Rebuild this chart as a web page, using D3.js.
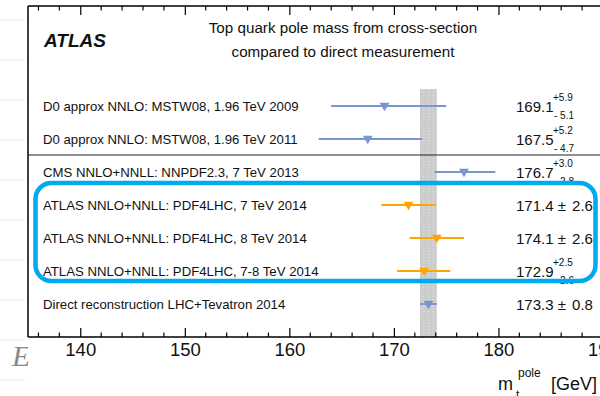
<!DOCTYPE html>
<html>
<head>
<meta charset="utf-8">
<script src="https://cdn.jsdelivr.net/npm/d3@7"></script>
<style>
  html, body { margin: 0; padding: 0; background: #fff; }
  svg { display: block; }
  text { font-family: "Liberation Sans", Arial, Helvetica, sans-serif; fill: #111; }
</style>
</head>
<body>
<script>
// measurements, top to bottom
const labels = [
  "D0 approx NNLO: MSTW08, 1.96 TeV 2009",
  "D0 approx NNLO: MSTW08, 1.96 TeV 2011",
  "CMS NNLO+NNLL: NNPDF2.3, 7 TeV 2013",
  "ATLAS NNLO+NNLL: PDF4LHC, 7 TeV 2014",
  "ATLAS NNLO+NNLL: PDF4LHC, 8 TeV 2014",
  "ATLAS NNLO+NNLL: PDF4LHC, 7-8 TeV 2014",
  "Direct reconstruction LHC+Tevatron 2014"
];
const masses = [169.1, 167.5, 176.7, 171.4, 174.1, 172.9, 173.3];
const errUp = [5.9, 5.2, 3.0, 2.6, 2.6, 2.5, 0.8];
const errDown = [5.1, 4.7, 2.8, 2.6, 2.6, 2.6, 0.8];
const groups = ["other", "other", "other", "atlas", "atlas", "atlas", "other"];
const xTicks = [140, 150, 160, 170, 180, 190];

const width = 600, height = 396;
const frameLeft = 28, frameTop = 6, frameBottom = 337;

const svg = d3.select("body").append("svg")
  .attr("width", width)
  .attr("height", height);

// slide background peeking out on the left
svg.append("g")
  .selectAll("line")
  .data(d3.range(20, 396, 40))
  .enter()
  .append("line")
  .attr("x1", 0).attr("x2", 25)
  .attr("y1", d => d).attr("y2", d => d)
  .attr("stroke", "#eeeeee");

svg.append("text")
  .attr("x", 12).attr("y", 366)
  .style("font-family", "'Liberation Serif', 'DejaVu Serif', serif")
  .style("font-style", "italic")
  .style("font-size", "30px")
  .style("fill", "#8a8a8a")
  .text("E");

svg.append("rect")
  .attr("x", frameLeft).attr("y", 0)
  .attr("width", width - frameLeft).attr("height", height)
  .attr("fill", "#fff");

const x = d3.scaleLinear().domain([135, 190]).range([frameLeft, 603]);
const y = d3.scalePoint().domain(labels).range([106, 304]);

const colour = d => (d === "atlas" ? "#ffa500" : "#7b95d3");

// combination band (direct measurement)
const band = svg.append("g");
const direct = masses[6];
band.append("rect")
  .attr("x", x(direct - errDown[6]))
  .attr("y", 89)
  .attr("width", x(direct + errUp[6]) - x(direct - errDown[6]))
  .attr("height", frameBottom - 89)
  .attr("fill", "#cccccc");
band.selectAll("line")
  .data([-0.45, 0, 0.45])
  .enter()
  .append("line")
  .attr("x1", d => x(direct + d)).attr("x2", d => x(direct + d))
  .attr("y1", 89).attr("y2", frameBottom)
  .attr("stroke", "#eeeeee")
  .attr("stroke-width", 0.8)
  .attr("stroke-dasharray", "1,2");

// frame
svg.append("line")
  .attr("x1", frameLeft).attr("x2", width).attr("y1", frameTop).attr("y2", frameTop)
  .attr("stroke", "#000").attr("stroke-width", 1.5);
svg.append("line")
  .attr("x1", frameLeft).attr("x2", width).attr("y1", frameBottom).attr("y2", frameBottom)
  .attr("stroke", "#000").attr("stroke-width", 1.5);
svg.append("line")
  .attr("x1", frameLeft).attr("x2", frameLeft).attr("y1", frameTop).attr("y2", frameBottom)
  .attr("stroke", "#000").attr("stroke-width", 1.5);

// divider between Tevatron and LHC
svg.append("line")
  .attr("x1", frameLeft).attr("x2", width).attr("y1", 155).attr("y2", 155)
  .attr("stroke", "#222").attr("stroke-width", 1.2);

// ticks, inward, bottom and top
const minor = d3.range(136, 191, 2).filter(d => d % 10 !== 0);
const xAxisBottom = d3.axisBottom(x).tickValues(xTicks).tickSize(-9).tickPadding(6).tickFormat(d3.format("d"));
const gb = svg.append("g").attr("transform", `translate(0,${frameBottom})`).call(xAxisBottom);
gb.select(".domain").remove();
gb.selectAll(".tick line").attr("stroke", "#000").attr("stroke-width", 1.2);
gb.selectAll(".tick text")
  .style("font-family", "'Liberation Sans', Arial, sans-serif")
  .style("font-size", "18.5px")
  .attr("fill", "#111");
gb.selectAll(".minor")
  .data(minor)
  .enter()
  .append("line")
  .attr("class", "minor")
  .attr("x1", d => x(d)).attr("x2", d => x(d))
  .attr("y1", 0).attr("y2", -4.5)
  .attr("stroke", "#000").attr("stroke-width", 1.2);

const xAxisTop = d3.axisTop(x).tickValues(xTicks).tickSize(-9).tickFormat("");
const gt = svg.append("g").attr("transform", `translate(0,${frameTop})`).call(xAxisTop);
gt.select(".domain").remove();
gt.selectAll(".tick line").attr("stroke", "#000").attr("stroke-width", 1.2);
gt.selectAll(".minor")
  .data(minor)
  .enter()
  .append("line")
  .attr("class", "minor")
  .attr("x1", d => x(d)).attr("x2", d => x(d))
  .attr("y1", 0).attr("y2", 4.5)
  .attr("stroke", "#000").attr("stroke-width", 1.2);

// titles
svg.append("text")
  .attr("x", 44).attr("y", 47)
  .style("font-weight", "bold").style("font-style", "italic")
  .style("font-size", "19px")
  .text("ATLAS");
svg.append("text")
  .attr("x", 343).attr("y", 33)
  .attr("text-anchor", "middle")
  .style("font-size", "15.2px")
  .text("Top quark pole mass from cross-section");
svg.append("text")
  .attr("x", 343).attr("y", 57)
  .attr("text-anchor", "middle")
  .style("font-size", "15.2px")
  .text("compared to direct measurement");

// row labels
svg.append("g")
  .selectAll("text")
  .data(labels)
  .enter()
  .append("text")
  .attr("x", 43)
  .attr("y", d => y(d) + 4.5)
  .style("font-size", "13.2px")
  .text(d => d);

// error bars
const rows = labels.map((l, i) => ({
  label: l, m: masses[i], up: errUp[i], down: errDown[i], g: groups[i]
}));

const bars = svg.append("g");
bars.selectAll("line")
  .data(rows)
  .enter()
  .append("line")
  .attr("x1", d => x(d.m - d.down))
  .attr("x2", d => x(d.m + d.up))
  .attr("y1", d => y(d.label))
  .attr("y2", d => y(d.label))
  .attr("stroke", d => colour(d.g))
  .attr("stroke-width", 2);

bars.selectAll("path")
  .data(rows)
  .enter()
  .append("path")
  .attr("d", d3.symbol(d3.symbolTriangle, 42))
  .attr("transform", d => `translate(${x(d.m)},${y(d.label) - 0.5}) rotate(180)`)
  .attr("fill", d => colour(d.g));

// value column
const vals = svg.append("g");
rows.forEach(d => {
  const yy = y(d.label) + 5.5;
  if (d.up === d.down) {
    const t = vals.append("text")
      .attr("x", 516).attr("y", yy)
      .style("font-size", "15px")
      .style("white-space", "pre");
    t.append("tspan").text(`${d.m.toFixed(1)} \u00b1`);
    t.append("tspan").attr("dx", 2).text(" " + d.up.toFixed(1));
  } else {
    vals.append("text")
      .attr("x", 516).attr("y", yy)
      .style("font-size", "15px")
      .text(d.m.toFixed(1));
    vals.append("text")
      .attr("x", 553).attr("y", yy - 11)
      .style("font-size", "10px")
      .text("+" + d.up.toFixed(1));
    vals.append("text")
      .attr("x", 554).attr("y", yy + 7.5)
      .style("font-size", "10px")
      .style("white-space", "pre")
      .text("- " + d.down.toFixed(1));
  }
});

// axis title
const at = svg.append("text").attr("x", 498).attr("y", 390).style("font-size", "18px");
at.append("tspan").text("m");
at.append("tspan").attr("dx", 3).attr("dy", 9).style("font-size", "12px").text("t");
at.append("tspan").attr("x", 518).attr("y", 377).style("font-size", "12px").text("pole");
at.append("tspan").attr("x", 551).attr("y", 390).text("[GeV]");

// highlight box around the ATLAS results
svg.append("rect")
  .attr("x", 35.5).attr("y", 183)
  .attr("width", 560).attr("height", 98)
  .attr("rx", 16).attr("ry", 16)
  .attr("fill", "none")
  .attr("stroke", "#00aaee")
  .attr("stroke-width", 4.5);
</script>
</body>
</html>
